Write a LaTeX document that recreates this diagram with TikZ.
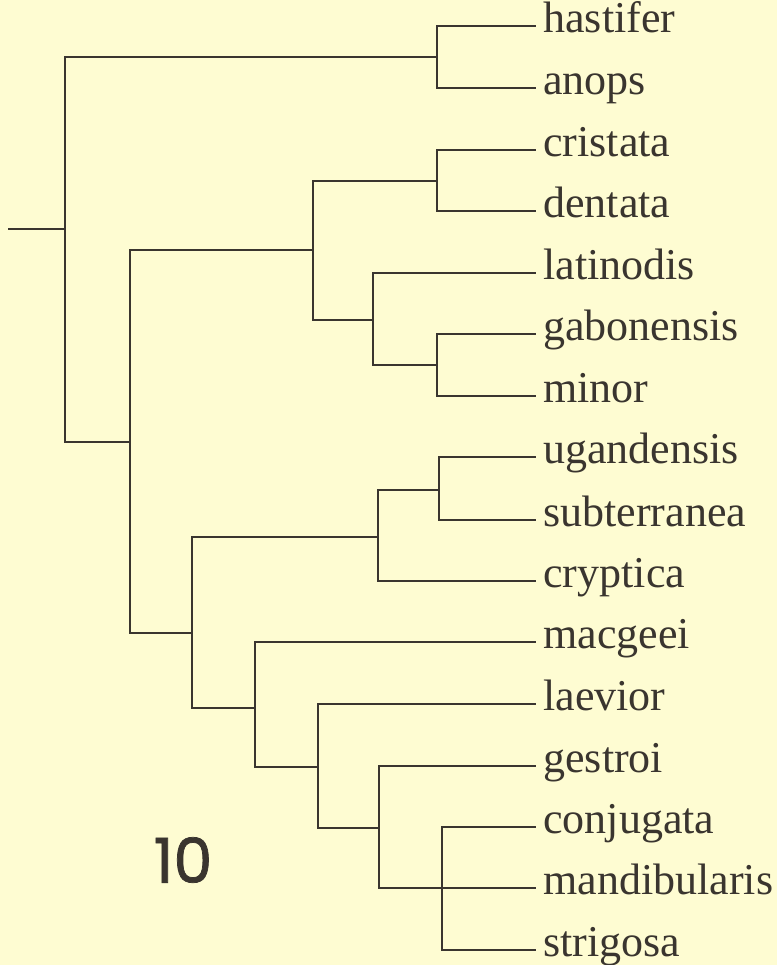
\documentclass[tikz,border=0pt]{standalone}
\usepackage{fontspec}
\setmainfont{Liberation Serif}
\newfontfamily\numfont[FakeBold=1.2]{Poppins}
\usepackage{tikz}
\usetikzlibrary{positioning}

\definecolor{paper}{RGB}{254,252,210}
\definecolor{ink}{RGB}{58,53,47}

\begin{document}
\begin{tikzpicture}[
    x=0.5pt, y=-0.5pt,
    leaf/.style={anchor=west, inner xsep=3.5pt, inner ysep=0pt, text height=9pt, text depth=3pt,
                 text=ink, font=\fontsize{22}{26}\selectfont},
    branch/.style={draw=ink, line width=1pt},
    fig/.style={text=ink, font=\numfont\fontsize{31}{36}\selectfont}
]
\fill[paper] (0,0) rectangle (777,965);

% species
\node[leaf] (hastifer) at (536, 26) {hastifer};
\node[leaf] (anops) at (536, 88) {anops};
\node[leaf] (cristata) at (536, 150) {cristata};
\node[leaf] (dentata) at (536, 211) {dentata};
\node[leaf] (latinodis) at (536, 273) {latinodis};
\node[leaf] (gabonensis) at (536, 334) {gabonensis};
\node[leaf] (minor) at (536, 396) {minor};
\node[leaf] (ugandensis) at (536, 457) {ugandensis};
\node[leaf] (subterranea) at (536, 520) {subterranea};
\node[leaf] (cryptica) at (536, 581) {cryptica};
\node[leaf] (macgeei) at (536, 642) {macgeei};
\node[leaf] (laevior) at (536, 704) {laevior};
\node[leaf] (gestroi) at (536, 766) {gestroi};
\node[leaf] (conjugata) at (536, 827) {conjugata};
\node[leaf] (mandibularis) at (536, 888) {mandibularis};
\node[leaf] (strigosa) at (536, 950) {strigosa};

% branch points
\coordinate (stem) at (8, 229);
\coordinate (root) at (65, 229);
\coordinate (nA) at (437, 57);
\coordinate (nN) at (130, 442);
\coordinate (nE) at (313, 250);
\coordinate (nB) at (437, 181);
\coordinate (nD) at (373, 320);
\coordinate (nC) at (437, 365);
\coordinate (nM) at (192, 633);
\coordinate (nG) at (378, 537);
\coordinate (nF) at (439, 490);
\coordinate (nL) at (255, 708);
\coordinate (nK) at (318, 767);
\coordinate (nJ) at (379, 828);
\coordinate (nI) at (442, 888);

\draw[branch] (stem) -- (root);
\draw[branch] (root) |- (nA);
\draw[branch] (root) |- (nN);
\draw[branch] (nA) |- (hastifer.west);
\draw[branch] (nA) |- (anops.west);
\draw[branch] (nN) |- (nE);
\draw[branch] (nN) |- (nM);
\draw[branch] (nE) |- (nB);
\draw[branch] (nE) |- (nD);
\draw[branch] (nB) |- (cristata.west);
\draw[branch] (nB) |- (dentata.west);
\draw[branch] (nD) |- (latinodis.west);
\draw[branch] (nD) |- (nC);
\draw[branch] (nC) |- (gabonensis.west);
\draw[branch] (nC) |- (minor.west);
\draw[branch] (nM) |- (nG);
\draw[branch] (nM) |- (nL);
\draw[branch] (nG) |- (nF);
\draw[branch] (nG) |- (cryptica.west);
\draw[branch] (nF) |- (ugandensis.west);
\draw[branch] (nF) |- (subterranea.west);
\draw[branch] (nL) |- (macgeei.west);
\draw[branch] (nL) |- (nK);
\draw[branch] (nK) |- (laevior.west);
\draw[branch] (nK) |- (nJ);
\draw[branch] (nJ) |- (gestroi.west);
\draw[branch] (nJ) |- (mandibularis.west);
\draw[branch] (nI) |- (conjugata.west);
\draw[branch] (nI) |- (strigosa.west);

\node[fig] (fignum) at (183, 860) {10};
\end{tikzpicture}
\end{document}
